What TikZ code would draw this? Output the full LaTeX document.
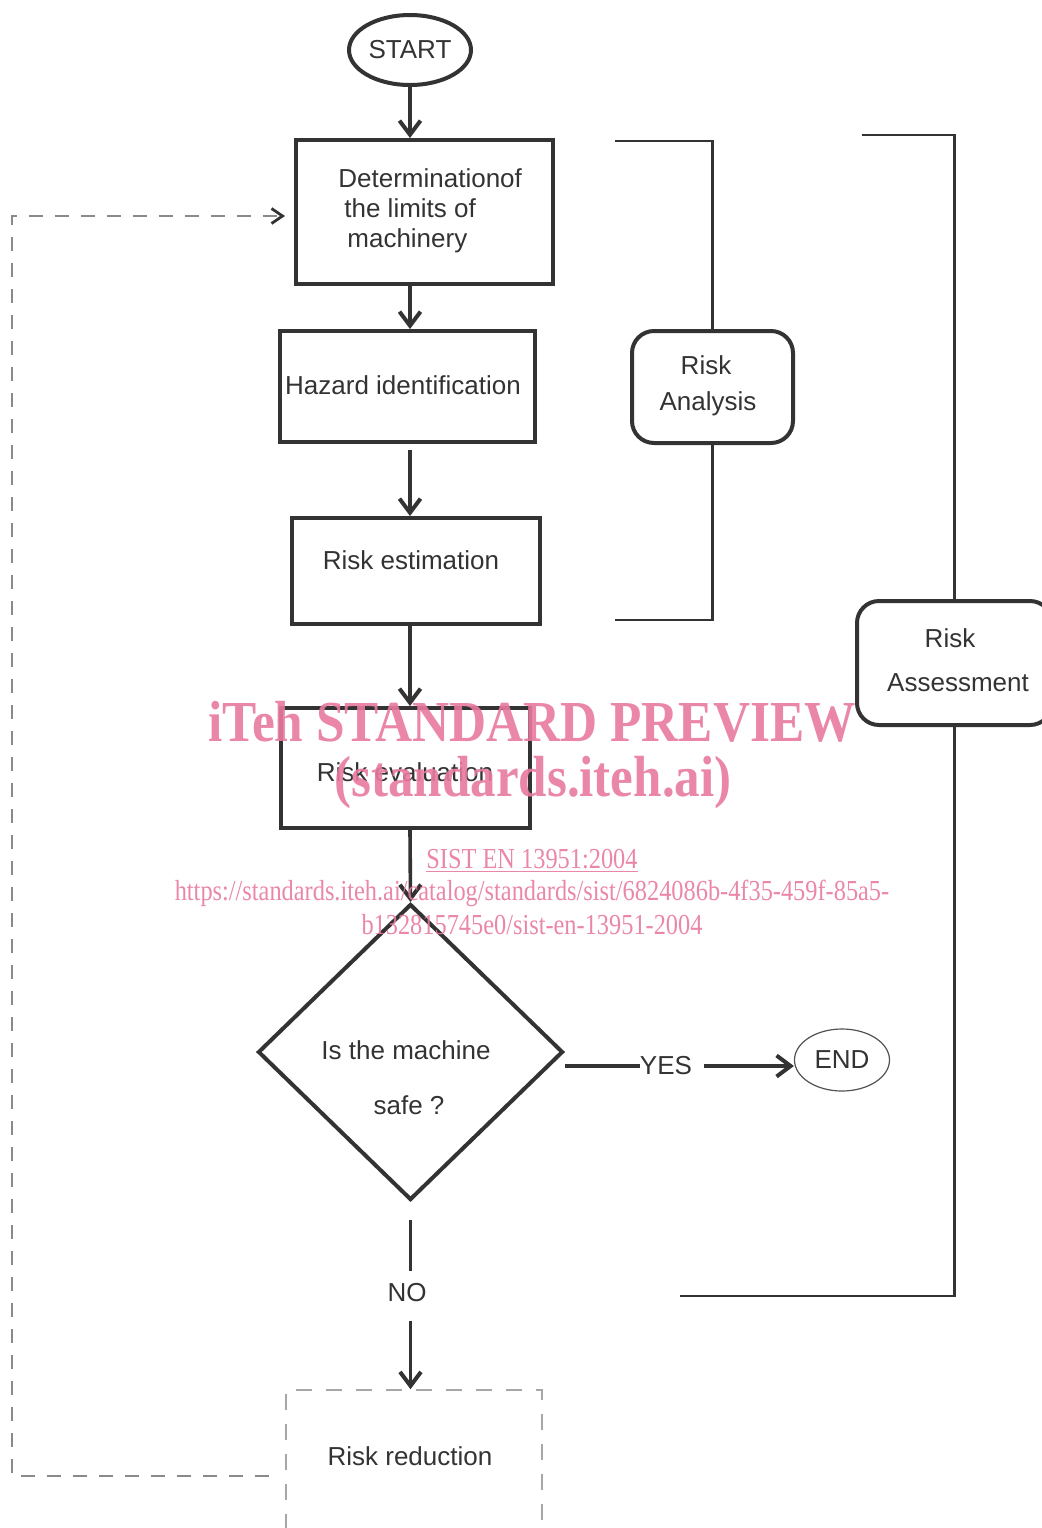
\documentclass[tikz,border=0pt]{standalone}
\usepackage{fontspec}
\usepackage{graphicx}
\setmainfont{Liberation Sans}
\newfontfamily\wmfont{Liberation Serif}
\usetikzlibrary{arrows.meta,shapes.geometric,calc}
\definecolor{ink}{HTML}{333333}
\definecolor{wm}{RGB}{232,122,160}
\definecolor{dashg}{HTML}{8A8A8A}
\begin{document}
\begin{tikzpicture}[x=0.5pt,y=-0.5pt,
  every node/.style={text=ink},
  box/.style={draw=ink,line width=2pt,inner sep=0},
  rbox/.style={draw=ink,line width=2pt,rounded corners=11pt,inner sep=0},
  lbl/.style={font=\fontsize{13}{15}\selectfont,inner sep=0},
  arr/.style={draw=ink,line width=1.8pt,-{Straight Barb[length=7pt,width=10.5pt,line width=2pt]}},
  plain/.style={draw=ink,line width=1.8pt},
  br/.style={draw=ink,line width=1.2pt},
  fb/.style={draw=dashg,line width=0.8pt,dash pattern=on 7pt off 6pt},
  wmtxt/.style={text=wm,inner sep=0,opacity=0.9}]
\useasboundingbox (0,0) rectangle (1042,1528);

% main chain
\node[ellipse,draw=ink,line width=2pt,minimum width=61pt,minimum height=35pt,inner sep=0,lbl] (start) at (410,50) {START};
\node[box,minimum width=128.5pt,minimum height=72pt] (det) at (424.5,212) {};
\node[lbl,align=left,anchor=west] (dettxt) at (338,211) {Determinationof\\\hspace*{3pt}the limits of\\\hspace*{4.5pt}machinery};
\node[box,minimum width=127.5pt,minimum height=55.5pt] (haz) at (407.5,386.5) {};
\node[lbl] (haztxt) at (403,385) {Hazard identification};
\node[box,minimum width=124pt,minimum height=53pt] (est) at (416,571) {};
\node[lbl] (esttxt) at (411,560) {Risk estimation};
\node[box,minimum width=124.5pt,minimum height=60pt] (eval) at (405.5,768) {};
\node[lbl] (evaltxt) at (405,772) {Risk evaluation};
\node[diamond,draw=ink,line width=2pt,minimum width=152.5pt,minimum height=148pt,inner sep=0] (dia) at (410.5,1052) {};
\node[lbl] (diatxt1) at (406,1050) {Is the machine};
\node[lbl] (diatxt2) at (409,1105) {safe ?};
\node[lbl] (yes) at (666,1066) {YES};
\node[ellipse,draw=ink!85,line width=0.6pt,minimum width=47.5pt,minimum height=31pt,inner sep=0,lbl] (end) at (842,1060) {END};
\node[lbl] (no) at (407,1293) {NO};
\node[draw=dashg!75,line width=0.8pt,dash pattern=on 8pt off 7pt,minimum width=128pt,minimum height=72pt,inner sep=0] (red) at (414,1462) {};
\node[lbl] (redtxt) at (410,1456) {Risk reduction};

% side boxes
\node[rbox,minimum width=80.5pt,minimum height=56pt] (ra) at (712.5,387) {};
\node[lbl] (ratxt1) at (706,365) {Risk};
\node[lbl] (ratxt2) at (708,404) {Analysis};
\node[rbox,minimum width=97.5pt,minimum height=62pt] (ras) at (954.5,663) {};
\node[lbl] (rastxt1) at (950,638) {Risk};
\node[lbl] (rastxt2) at (958,683) {Assessment};

% connectors
\draw[arr] (start) -- (start |- det.north);
\draw[arr] (det.south -| start) -- (haz.north -| start);
\draw[arr,shorten <=3pt] (haz.south -| start) -- (est.north -| start);
\draw[arr] (est.south -| start) -- (eval.north -| start);
\draw[arr] (eval.south -| start) -- (dia.north);
\draw[plain] (dia.east |- yes) -- (yes.west);
\draw[arr,shorten <=6pt] (yes.east) -- (yes.east -| end.west);
\draw[plain,shorten <=9pt,shorten >=6pt] (dia.south) -- (dia.south |- no.north);
\draw[arr,shorten <=9pt] (dia.south |- no.south) -- (red.north -| dia.south);

% feedback loop
\coordinate (fbc) at (12,1476);
\draw[fb,-{Straight Barb[length=5.5pt,width=7.5pt,line width=1.4pt,color=ink]}] ([shift={(-16,14)}]red.west) -- (fbc) |- ([shift={(-9,4)}]det.west);

% brackets
\coordinate (ra1) at (615,141);
\coordinate (ra2) at (615,620);
\draw[br] (ra1) -| (ra.north);
\draw[br] (ra.south) |- (ra2);
\coordinate (ras1) at (862,135);
\coordinate (ras2) at (680,1296);
\draw[br] (ras1) -| (ras.north);
\draw[br] (ras.south) |- (ras2);

% watermark
\node[wmtxt,font=\wmfont\bfseries\fontsize{29}{29}\selectfont] (wm1) at (532,722) {\scalebox{0.885}[1]{iTeh STANDARD PREVIEW}};
\node[wmtxt,font=\wmfont\bfseries\fontsize{29}{29}\selectfont] (wm2) at (533,783) {\scalebox{0.88}[1]{(standards.iteh.ai)}};
\node[wmtxt,font=\wmfont\fontsize{14.5}{16}\selectfont] (wm3) at (532,861) {\scalebox{0.84}[1]{\underline{SIST EN 13951:2004}}};
\node[wmtxt,font=\wmfont\fontsize{14.5}{16}\selectfont] (wm4) at (532,893) {\scalebox{0.84}[1]{https://standards.iteh.ai/catalog/standards/sist/6824086b-4f35-459f-85a5-}};
\node[wmtxt,font=\wmfont\fontsize{14.5}{16}\selectfont] (wm5) at (532,925) {\scalebox{0.84}[1]{b132815745e0/sist-en-13951-2004}};
\end{tikzpicture}
\end{document}
